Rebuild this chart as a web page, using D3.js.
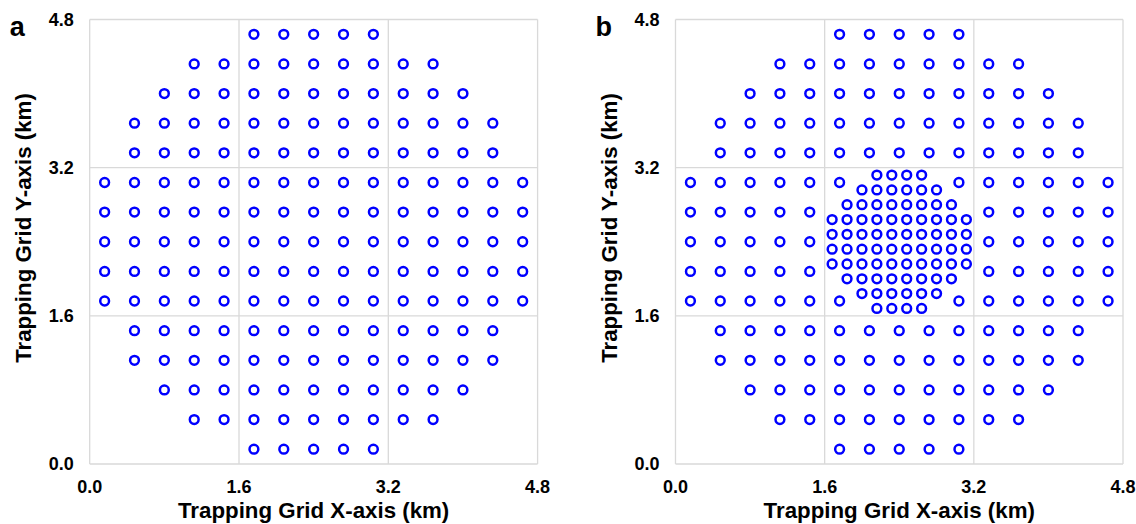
<!DOCTYPE html>
<html>
<head>
<meta charset="UTF-8">
<script src="https://d3js.org/d3.v7.min.js"></script>
<style>
    body { margin: 0; background: #fff; font-family: Arial, "Liberation Sans", sans-serif; }
    .tick-label { font-size: 18px; font-weight: bold; fill: #000; }
    .axis-title { font-size: 22.3px; font-weight: bold; fill: #000; }
    .panel-label { font-size: 27px; font-weight: bold; fill: #000; }
    .grid { stroke: #d9d9d9; stroke-width: 1.3px; fill: none; }
    .trap { fill: #fff; stroke: #0000ff; stroke-width: 2.5px; }
</style>
</head>
<body>
<svg id="chart" width="1136" height="524"></svg>
<script>
    // axis ticks (km)
    const ticks = [0.0, 1.6, 3.2, 4.8];

    // coarse trap columns (km)
    const gridCols = [0.16, 0.48, 0.80, 1.12, 1.44, 1.76, 2.08, 2.40, 2.72, 3.04, 3.36, 3.68, 4.00, 4.32, 4.64];
    // coarse rows: y and the first / last column used on that row
    const rowY     = [4.64, 4.32, 4.00, 3.68, 3.36, 3.04, 2.72, 2.40, 2.08, 1.76, 1.44, 1.12, 0.80, 0.48, 0.16];
    const rowFirst = [1.76, 1.12, 0.80, 0.48, 0.48, 0.16, 0.16, 0.16, 0.16, 0.16, 0.48, 0.48, 0.80, 1.12, 1.76];
    const rowLast  = [3.04, 3.68, 4.00, 4.32, 4.32, 4.64, 4.64, 4.64, 4.64, 4.64, 4.32, 4.32, 4.00, 3.68, 3.04];

    // panel b: coarse traps taken out of the centre
    const removedB = [
        [2.08, 3.04], [2.40, 3.04], [2.72, 3.04],
        [1.76, 2.72], [2.08, 2.72], [2.40, 2.72], [2.72, 2.72], [3.04, 2.72],
        [1.76, 2.40], [2.08, 2.40], [2.40, 2.40], [2.72, 2.40], [3.04, 2.40],
        [1.76, 2.08], [2.08, 2.08], [2.40, 2.08], [2.72, 2.08], [3.04, 2.08],
        [2.08, 1.76], [2.40, 1.76], [2.72, 1.76]
    ];
    // panel b: dense centre traps
    const denseCols  = [1.68, 1.84, 2.00, 2.16, 2.32, 2.48, 2.64, 2.80, 2.96, 3.12];
    const denseY     = [3.12, 2.96, 2.80, 2.64, 2.48, 2.32, 2.16, 2.00, 1.84, 1.68];
    const denseFirst = [2.16, 2.00, 1.84, 1.68, 1.68, 1.68, 1.68, 1.84, 2.00, 2.16];
    const denseLast  = [2.64, 2.80, 2.96, 3.12, 3.12, 3.12, 3.12, 2.96, 2.80, 2.64];

    const eps = 1e-6;
    function rows(cols, ys, first, last) {
        const pts = [];
        ys.forEach((y, i) => {
            cols.filter(x => x >= first[i] - eps && x <= last[i] + eps)
                .forEach(x => pts.push([x, y]));
        });
        return pts;
    }

    const coarse = rows(gridCols, rowY, rowFirst, rowLast);
    const isRemoved = p => removedB.some(r => Math.abs(r[0] - p[0]) < eps && Math.abs(r[1] - p[1]) < eps);
    const panelA = coarse;
    const panelB = coarse.filter(p => !isRemoved(p)).concat(rows(denseCols, denseY, denseFirst, denseLast));

    const svg = d3.select("#chart");

    function drawPanel(letter, pts, left, right) {
        const top = 19.5, bottom = 464;
        const x = d3.scaleLinear().domain([0, 4.8]).range([left, right]);
        const y = d3.scaleLinear().domain([0, 4.8]).range([bottom, top]);
        const g = svg.append("g");

        // grid lines + frame
        g.selectAll(".vgrid").data(ticks).enter().append("line")
            .attr("class", "grid")
            .attr("x1", d => x(d)).attr("x2", d => x(d))
            .attr("y1", top).attr("y2", bottom);
        g.selectAll(".hgrid").data(ticks).enter().append("line")
            .attr("class", "grid")
            .attr("x1", left).attr("x2", right)
            .attr("y1", d => y(d)).attr("y2", d => y(d));

        g.selectAll(".xlab").data(ticks).enter().append("text")
            .attr("class", "tick-label")
            .attr("x", d => x(d)).attr("y", 493)
            .attr("text-anchor", "middle")
            .text(d => d.toFixed(1));
        g.selectAll(".ylab").data(ticks).enter().append("text")
            .attr("class", "tick-label")
            .attr("x", left - 16).attr("y", d => y(d))
            .attr("dy", "0.35em")
            .attr("text-anchor", "end")
            .text(d => d.toFixed(1));

        g.append("text").attr("class", "axis-title")
            .attr("x", (left + right) / 2).attr("y", 518)
            .attr("text-anchor", "middle")
            .text("Trapping Grid X-axis (km)");
        g.append("text").attr("class", "axis-title")
            .attr("transform", `translate(${left - 59},228) rotate(-90)`)
            .attr("text-anchor", "middle")
            .text("Trapping Grid Y-axis (km)");

        g.append("text").attr("class", "panel-label")
            .attr("x", left - 80).attr("y", 36)
            .text(letter);

        g.selectAll(".trap").data(pts).enter().append("circle")
            .attr("class", "trap")
            .attr("cx", d => x(d[0]))
            .attr("cy", d => y(d[1]))
            .attr("r", 4.4);
    }

    drawPanel("a", panelA, 89.7, 537.6);
    drawPanel("b", panelB, 675.5, 1123);
</script>
</body>
</html>
